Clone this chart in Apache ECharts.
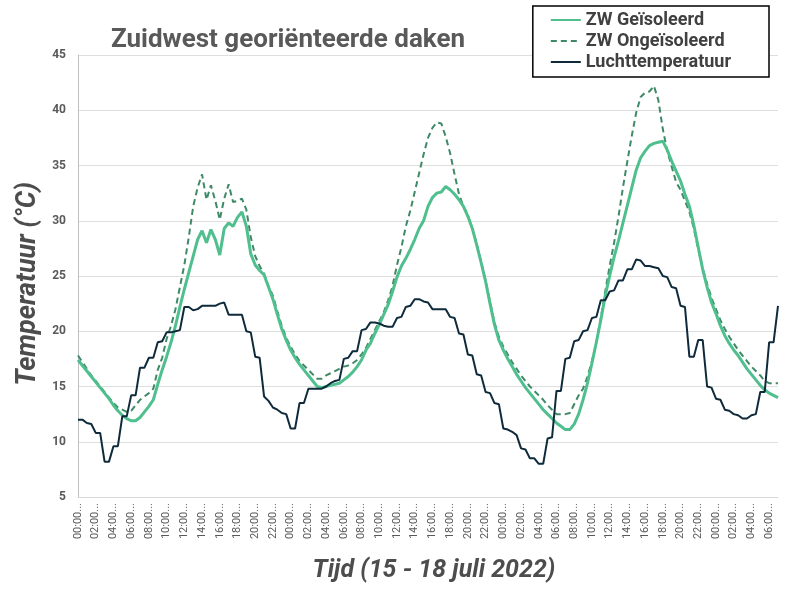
<!DOCTYPE html>
<html>
<head>
<meta charset="utf-8">
<title>Zuidwest georiënteerde daken</title>
<script src="https://cdn.jsdelivr.net/npm/echarts@6/dist/echarts.min.js"></script>
<style>
  html, body { margin: 0; padding: 0; background: #fff; }
  #chart { width: 800px; height: 600px; }
</style>
</head>
<body>
<div id="chart"></div>
<script>
// ---------------- data ----------------

// tijdstippen per half uur (15 juli 00:00 t/m 18 juli 07:00)
const halfHours = [
  "00:00:00", "00:30:00", "01:00:00", "01:30:00", "02:00:00", "02:30:00", "03:00:00", "03:30:00",
  "04:00:00", "04:30:00", "05:00:00", "05:30:00", "06:00:00", "06:30:00", "07:00:00", "07:30:00",
  "08:00:00", "08:30:00", "09:00:00", "09:30:00", "10:00:00", "10:30:00", "11:00:00", "11:30:00",
  "12:00:00", "12:30:00", "13:00:00", "13:30:00", "14:00:00", "14:30:00", "15:00:00", "15:30:00",
  "16:00:00", "16:30:00", "17:00:00", "17:30:00", "18:00:00", "18:30:00", "19:00:00", "19:30:00",
  "20:00:00", "20:30:00", "21:00:00", "21:30:00", "22:00:00", "22:30:00", "23:00:00", "23:30:00"
];
const categories = halfHours.concat(halfHours, halfHours, halfHours.slice(0, 15));

const yTicks = { min: 5, max: 45, interval: 5 };

// ZW Geïsoleerd
const geisoleerd = [
  17.4, 16.9, 16.4, 15.9, 15.4, 14.9, 14.4, 13.9,
  13.3, 12.8, 12.4, 12.1, 11.9, 11.9, 12.2, 12.7,
  13.2, 13.8, 15.2, 16.5, 17.7, 19.0, 20.5, 22.2,
  23.8, 25.3, 26.8, 28.3, 29.1, 28.0, 29.2, 28.3,
  26.9, 29.3, 29.8, 29.5, 30.3, 30.8, 29.5, 27.0,
  26.0, 25.5, 25.1, 24.0, 22.9, 21.5, 20.2, 19.2,
  18.3, 17.6, 17.0, 16.5, 16.0, 15.5, 15.0, 14.9,
  15.0, 15.1, 15.2, 15.3, 15.6, 15.9, 16.3, 16.8,
  17.4, 18.3, 18.9, 19.8, 20.6, 21.5, 22.4, 23.6,
  24.9, 25.9, 26.6, 27.4, 28.3, 29.3, 30.0, 31.3,
  32.1, 32.5, 32.6, 33.1, 32.8, 32.4, 31.9, 31.3,
  30.4, 29.3, 27.8, 26.2, 24.5, 22.5, 20.6, 19.2,
  18.3, 17.5, 16.8, 16.1, 15.5, 14.9, 14.4, 13.9,
  13.4, 12.9, 12.5, 12.1, 11.7, 11.4, 11.1, 11.1,
  11.6, 12.5, 13.8, 15.3, 17.1, 19.0, 21.0, 23.2,
  25.0, 26.7, 28.2, 29.8, 31.4, 33.0, 34.6, 35.7,
  36.3, 36.8, 37.0, 37.1, 37.2, 36.4, 35.4, 34.5,
  33.6, 32.4, 31.3, 29.6, 27.6, 25.6, 24.0, 22.6,
  21.6, 20.5, 19.6, 18.9, 18.3, 17.8, 17.2, 16.6,
  16.1, 15.6, 15.1, 14.7, 14.4, 14.2, 14.0
];

// ZW Ongeïsoleerd
const ongeisoleerd = [
  17.8, 17.2, 16.6, 16.0, 15.5, 15.0, 14.5, 14.0,
  13.5, 13.1, 12.9, 12.7, 12.8, 13.3, 13.8, 14.1,
  14.4, 14.8, 16.5, 17.6, 19.3, 20.5, 22.0, 24.0,
  26.0, 28.5, 31.3, 33.0, 34.2, 31.9, 33.2, 31.8,
  30.1, 32.0, 33.3, 31.7, 31.8, 32.0, 31.0, 28.5,
  26.8, 25.9, 25.2, 24.1, 23.2, 21.8, 20.5, 19.4,
  18.6, 17.9, 17.3, 16.9, 16.5, 16.1, 15.7, 15.7,
  16.0, 16.2, 16.4, 16.6, 16.8, 16.9, 17.1, 17.4,
  17.9, 18.5, 19.3, 20.1, 20.9, 21.7, 22.8, 24.1,
  26.0, 27.6, 29.5, 30.9, 32.6, 34.3, 36.0, 37.5,
  38.4, 38.9, 38.8, 37.6, 36.1, 34.2, 32.4, 31.3,
  30.5, 29.3, 27.9, 26.3, 24.6, 22.7, 20.8, 19.5,
  18.6, 17.9, 17.2, 16.6, 16.0, 15.5, 15.0, 14.6,
  14.2, 13.8, 13.3, 12.9, 12.5, 12.5, 12.5, 12.6,
  13.4, 14.2, 14.8, 15.9, 17.3, 19.0, 21.2, 23.6,
  25.9, 28.0, 30.4, 33.0, 35.4, 37.7, 39.8, 41.2,
  41.6, 41.7, 42.2, 40.9, 38.3, 36.3, 34.9, 33.5,
  32.8, 31.8, 30.8, 29.3, 27.4, 25.7, 24.3, 23.0,
  22.0, 21.0, 20.2, 19.5, 18.9, 18.3, 17.8, 17.3,
  16.8, 16.4, 16.0, 15.5, 15.3, 15.3, 15.3
];

// Luchttemperatuur
const lucht = [
  12.0, 12.0, 11.7, 11.6, 10.8, 10.8, 8.2, 8.2,
  9.6, 9.6, 12.3, 12.3, 14.2, 14.2, 16.7, 16.7,
  17.6, 17.6, 19.0, 19.1, 19.9, 19.9, 20.0, 20.1,
  22.2, 22.2, 21.9, 22.0, 22.3, 22.3, 22.3, 22.3,
  22.5, 22.6, 21.5, 21.5, 21.5, 21.5, 20.0, 19.9,
  17.7, 17.6, 14.1, 13.7, 13.1, 12.9, 12.6, 12.5,
  11.2, 11.2, 13.5, 13.5, 14.8, 14.8, 14.8, 14.8,
  15.0, 15.3, 15.5, 15.6, 17.5, 17.6, 18.2, 18.2,
  20.1, 20.2, 20.8, 20.8, 20.7, 20.5, 20.4, 20.4,
  21.2, 21.3, 22.2, 22.3, 22.9, 22.9, 22.7, 22.6,
  22.0, 22.0, 22.0, 22.0, 21.3, 21.2, 19.8, 19.7,
  17.9, 17.8, 16.1, 16.0, 14.5, 14.4, 13.5, 13.4,
  11.2, 11.1, 10.9, 10.6, 9.4, 9.3, 8.5, 8.5,
  8.0, 8.0, 10.3, 10.4, 14.6, 14.6, 17.5, 17.6,
  19.1, 19.2, 20.0, 20.1, 21.2, 21.3, 22.8, 22.8,
  23.6, 23.7, 24.6, 24.6, 25.6, 25.6, 26.5, 26.4,
  25.9, 25.9, 25.8, 25.7, 25.0, 24.9, 24.0, 23.9,
  22.3, 22.2, 17.7, 17.7, 19.2, 19.2, 15.0, 14.9,
  13.9, 13.8, 12.9, 12.8, 12.5, 12.4, 12.1, 12.1,
  12.4, 12.5, 14.5, 14.5, 19.0, 19.0, 22.3
];

// ---------------- lijn grafiek ----------------

let chartDom = document.getElementById("chart");
let myChart = echarts.init(chartDom);
let option;

option = {
  backgroundColor: "#ffffff",
  textStyle: { fontFamily: "Roboto" },
  title: [
    {
      text: "Zuidwest georiënteerde daken",
      left: 106,
      top: 22,
      textStyle: { fontSize: 26, fontWeight: "bold", color: "#595959", fontFamily: "Roboto" },
    },
    {
      text: "Tijd (15 - 18 juli 2022)",
      left: 429,
      top: 553,
      textAlign: "center",
      textStyle: { fontSize: 25, fontWeight: "bold", fontStyle: "italic", color: "#4d4d4d", fontFamily: "Roboto" },
    },
  ],
  legend: {
    data: ["ZW Geïsoleerd", "ZW Ongeïsoleerd", "Luchttemperatuur"],
    orient: "vertical",
    right: 31,
    top: 6,
    itemWidth: 30,
    itemHeight: 14,
    itemGap: 3,
    padding: [5, 38, 6, 17],
    borderColor: "#000",
    borderWidth: 1.5,
    backgroundColor: "#fff",
    itemStyle: { opacity: 0 }, // geen bolletje in legenda
    textStyle: { fontSize: 18, fontWeight: "bold", color: "#404040", fontFamily: "Roboto" },
  },
  grid: {
    left: 78,
    right: 22,
    top: 55,
    bottom: 103,
  },
  xAxis: {
    type: "category",
    boundaryGap: false,
    data: categories,
    axisTick: { show: false },
    axisLine: { lineStyle: { color: "#d9d9d9" } },
    axisLabel: {
      interval: 3,
      rotate: 90,
      fontSize: 11,
      color: "#595959",
      margin: 6,
      formatter: (v) => v.slice(0, 5) + "...",
    },
  },
  yAxis: {
    type: "value",
    min: yTicks.min,
    max: yTicks.max,
    interval: yTicks.interval,
    name: "Temperatuur (°C)",
    nameLocation: "middle",
    nameGap: 34,
    nameTextStyle: {
      fontSize: 27,
      fontWeight: "bold",
      fontStyle: "italic",
      color: "#4d4d4d",
      fontFamily: "Roboto",
      padding: [0, 16, 0, 0],
    },
    axisLine: { show: true, lineStyle: { color: "#bfbfbf" } },
    axisTick: { show: false },
    axisLabel: { fontSize: 12, fontWeight: "bold", color: "#595959", margin: 12 },
    splitLine: { lineStyle: { color: "#dedede" } },
  },
  series: [
    {
      name: "ZW Geïsoleerd",
      type: "line",
      symbol: "none",
      data: geisoleerd,
      lineStyle: { color: "#4fbf8e", width: 3 },
      itemStyle: { color: "#4fbf8e" },
      z: 3,
    },
    {
      name: "ZW Ongeïsoleerd",
      type: "line",
      symbol: "none",
      data: ongeisoleerd,
      lineStyle: { color: "#3f8a66", width: 2, type: [6, 4] },
      itemStyle: { color: "#3f8a66" },
      z: 2,
    },
    {
      name: "Luchttemperatuur",
      type: "line",
      symbol: "none",
      data: lucht,
      lineStyle: { color: "#0e2a3b", width: 2 },
      itemStyle: { color: "#0e2a3b" },
      z: 4,
    },
  ],
};
myChart.setOption(option);

window.onresize = function () {
  myChart.resize();
};
</script>
</body>
</html>
